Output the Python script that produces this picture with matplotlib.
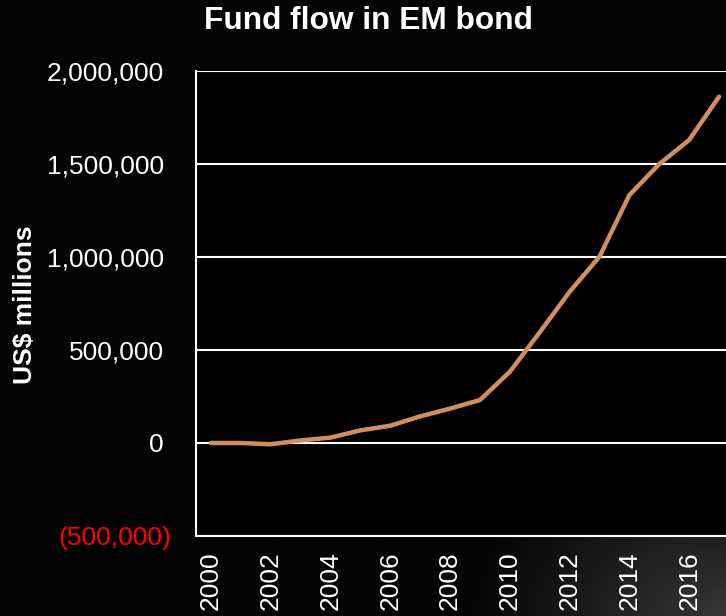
import matplotlib
matplotlib.use("Agg")
import matplotlib.pyplot as plt
import matplotlib.transforms as mtransforms
import numpy as np
from matplotlib.ticker import FuncFormatter

plt.rcParams["font.family"] = ["Liberation Sans", "DejaVu Sans"]

years = list(range(2000, 2018))
fund_flow = [0, 0, -7000, 14000, 29000, 68000, 93000, 143000, 185000, 231000,
             383000, 595000, 813000, 1002000, 1333000, 1500000, 1629000, 1862000]
tick_years = list(range(2000, 2017, 2))
y_ticks = [-500000, 0, 500000, 1000000, 1500000, 2000000]

line_color = "#D18F5E"

fig = plt.figure(figsize=(7.26, 6.16), dpi=100, facecolor="black")

# dark backdrop with a faint light patch in the lower right corner
bg = fig.add_axes([0, 0, 1, 1], zorder=-10)
gx, gy = np.meshgrid(np.linspace(0, 1, 300), np.linspace(0, 1, 300))
dist = np.sqrt((gx - 1.0) ** 2 + (gy - 1.0) ** 2 * 1.6)
shade = np.clip(0.20 - dist * 0.55, 0, None) + 0.012
bg.imshow(shade, cmap="gray", vmin=0, vmax=1, aspect="auto", extent=[0, 1, 0, 1])
bg.axis("off")

ax = fig.add_axes([196 / 726, 80 / 616, 538 / 726, 465 / 616])
ax.set_facecolor("black")

ax.plot(years, fund_flow, color=line_color, lw=3.2, solid_capstyle="round",
        solid_joinstyle="round", zorder=3)

ax.set_xlim(1999.5, 2017.5)
ax.set_ylim(-500000, 2000000)
ax.set_yticks(y_ticks)
ax.set_xticks(tick_years)
ax.set_xticklabels([str(y) for y in tick_years], rotation=90)


def fmt(v, pos):
    if v < 0:
        return f"({abs(int(v)):,})"
    return f"{int(v):,}"


ax.yaxis.set_major_formatter(FuncFormatter(fmt))
ax.grid(axis="y", color="white", lw=1.5, zorder=1)
ax.grid(axis="x", visible=False)

for side in ["top", "right"]:
    ax.spines[side].set_visible(False)
for side in ["left", "bottom"]:
    ax.spines[side].set_color("white")
    ax.spines[side].set_linewidth(1.5)

ax.tick_params(axis="y", colors="white", labelsize=19, length=0, pad=23)
ax.tick_params(axis="x", colors="white", labelsize=19, length=0, pad=11)

for lbl in ax.get_yticklabels():
    if lbl.get_text().startswith("("):
        lbl.set_color("red")
        lbl.set_transform(lbl.get_transform()
                          + mtransforms.ScaledTranslation(7 / 100, 0, fig.dpi_scale_trans))

fig.text(368 / 726, 1 - 21 / 616, "Fund flow in EM bond", color="white",
         fontsize=22.8, fontweight="bold", ha="center", va="center")
fig.text(25 / 726, 1 - 305 / 616, "US$ millions", color="white", fontsize=19,
         fontweight="bold", rotation=90, ha="center", va="center")

fig.savefig("out.png", dpi=100, facecolor="black")
